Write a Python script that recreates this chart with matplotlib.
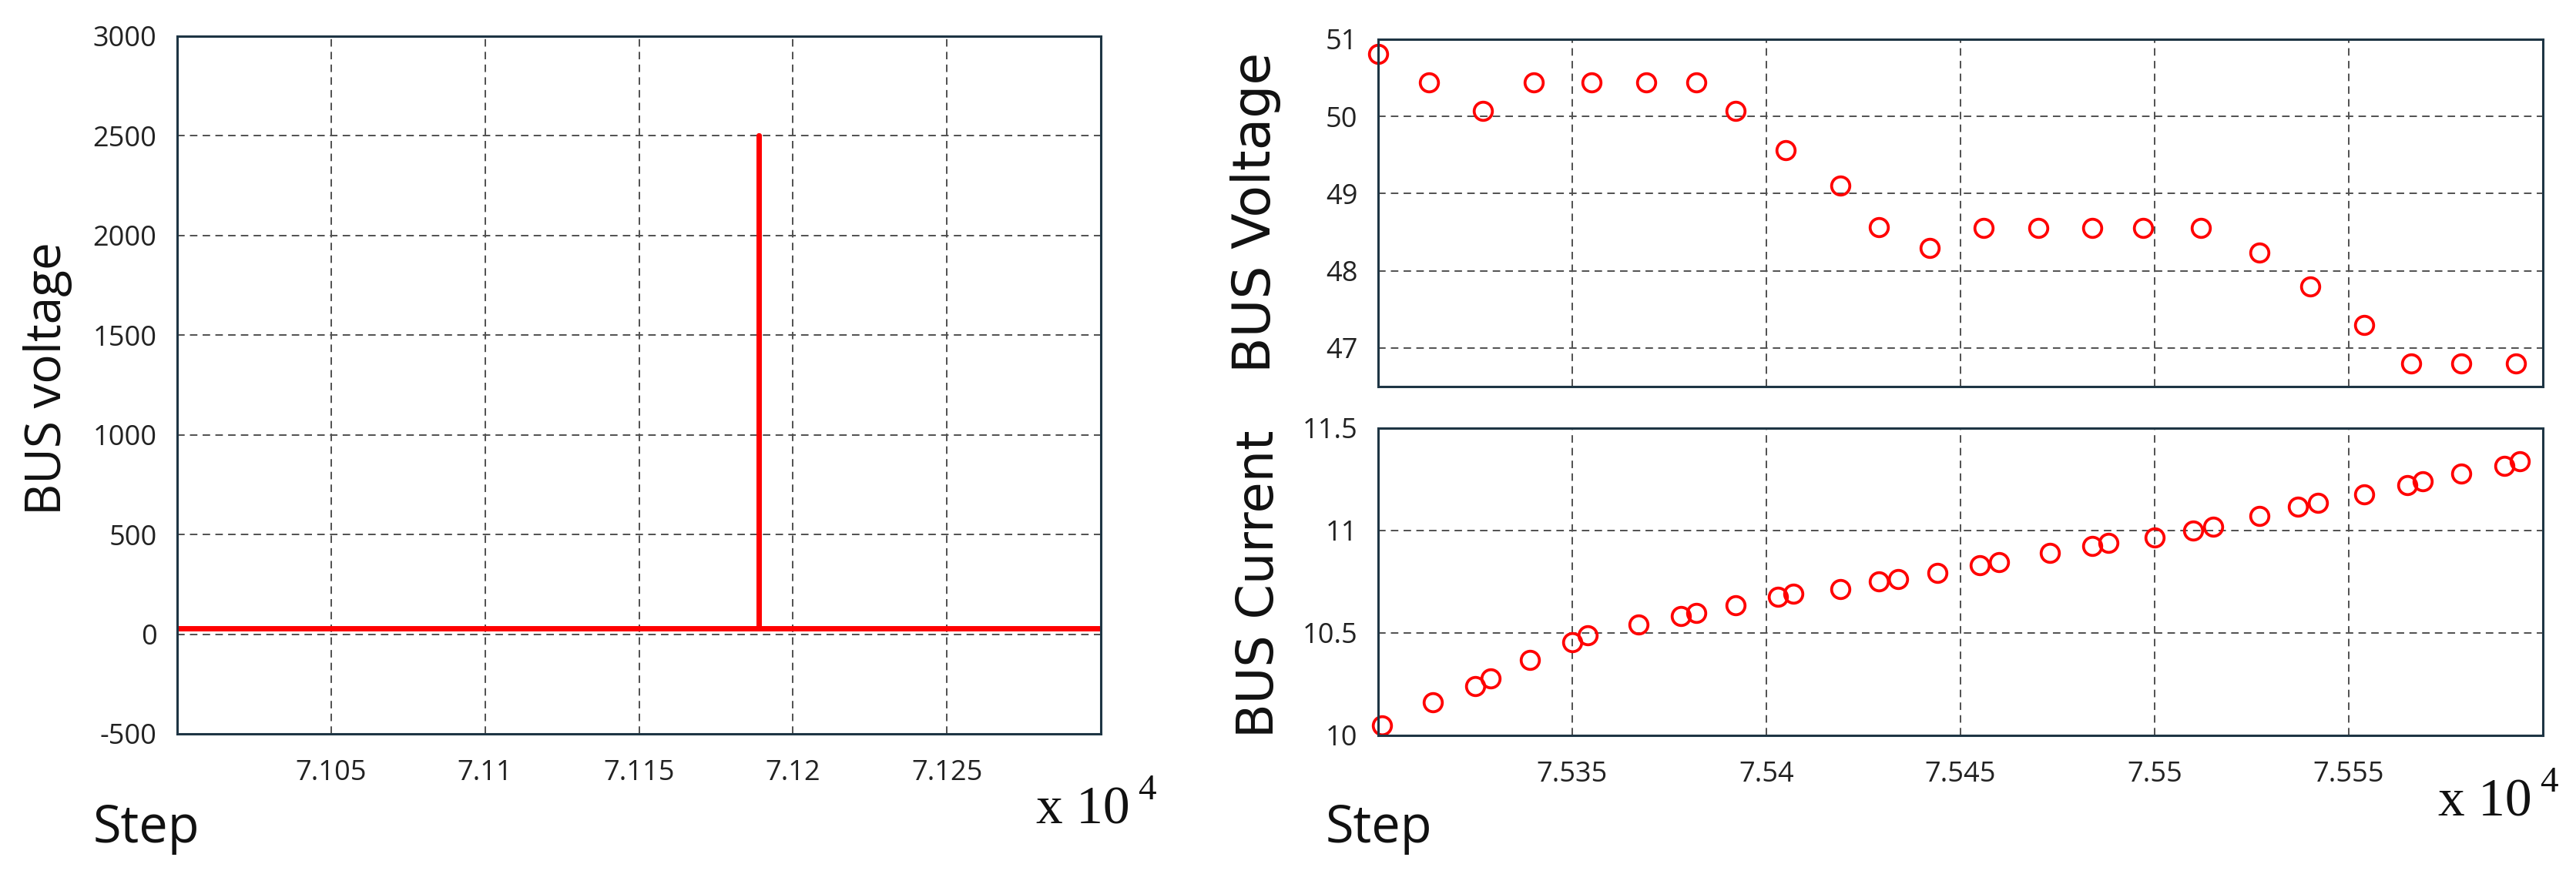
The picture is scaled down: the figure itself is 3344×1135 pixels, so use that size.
import matplotlib.pyplot as plt
from matplotlib.ticker import FuncFormatter

plt.rcParams['axes.unicode_minus'] = False

# left panel: bus voltage around the spike
step_left = [71000, 71189, 71189, 71189, 71300]
volt_left = [30, 30, 2500, 30, 30]

# right top: bus voltage samples
step_volt = [75300, 75313, 75327, 75340, 75355, 75369, 75382, 75392, 75405, 75419,
             75429, 75442, 75456, 75470, 75484, 75497, 75512, 75527, 75540, 75554,
             75566, 75579, 75593]
bus_volt = [50.81, 50.44, 50.07, 50.44, 50.44, 50.44, 50.44, 50.07, 49.56, 49.10,
            48.57, 48.30, 48.56, 48.56, 48.56, 48.56, 48.56, 48.24, 47.80, 47.30,
            46.80, 46.80, 46.80]

# right bottom: bus current samples
step_cur = [75301, 75314, 75325, 75329, 75339, 75350, 75354, 75367, 75378, 75382,
            75392, 75403, 75407, 75419, 75429, 75434, 75444, 75455, 75460, 75473,
            75484, 75488, 75500, 75510, 75515, 75527, 75537, 75542, 75554, 75565,
            75569, 75579, 75590, 75594]
bus_cur = [10.05, 10.16, 10.24, 10.28, 10.37, 10.455, 10.49, 10.54, 10.584, 10.598,
           10.634, 10.677, 10.691, 10.713, 10.75, 10.764, 10.792, 10.829, 10.845, 10.89,
           10.926, 10.939, 10.966, 11.0, 11.02, 11.073, 11.117, 11.135, 11.177, 11.22,
           11.24, 11.28, 11.316, 11.34]

left_xticks = [71050, 71100, 71150, 71200, 71250]
right_xticks = [75350, 75400, 75450, 75500, 75550]

W, H = 3344, 1135
fig = plt.figure(figsize=(W / 100, H / 100), dpi=100)

spine_col = '#1e3544'
grid_col = '#505050'
tick_font = 'Open Sans'


def style(ax):
    for s in ax.spines.values():
        s.set_color(spine_col)
        s.set_linewidth(2.2)
    ax.grid(True, linestyle=(0, (5, 3.5)), color=grid_col, linewidth=1.4)
    ax.set_axisbelow(True)
    ax.tick_params(length=0, labelsize=26, colors='#222222')
    ax.tick_params(axis='y', pad=19)
    ax.tick_params(axis='x', pad=24)
    for lab in ax.get_xticklabels() + ax.get_yticklabels():
        lab.set_fontfamily(tick_font)


fmt = FuncFormatter(lambda v, p: '%g' % (v / 1e4))

# left
ax1 = fig.add_axes([230 / W, 1 - 953 / H, (1429 - 230) / W, (953 - 47) / H])
ax1.plot(step_left, volt_left, color='red', linewidth=5)
ax1.set_xlim(71000, 71300)
ax1.set_ylim(-500, 3000)
ax1.set_xticks(left_xticks)
ax1.set_yticks([-500, 0, 500, 1000, 1500, 2000, 2500, 3000])
ax1.xaxis.set_major_formatter(fmt)
style(ax1)

# right top
ax2 = fig.add_axes([1789 / W, 1 - 502 / H, (3301 - 1789) / W, (502 - 51) / H])
ax2.plot(step_volt, bus_volt, 'o', mfc='none', mec='red', ms=17, mew=2.7, clip_on=False)
ax2.set_xlim(75300, 75600)
ax2.set_ylim(46.5, 51)
ax2.set_xticks(right_xticks)
ax2.set_yticks([47, 48, 49, 50, 51])
ax2.set_xticklabels([])
style(ax2)

# right bottom
ax3 = fig.add_axes([1789 / W, 1 - 955 / H, (3301 - 1789) / W, (955 - 556) / H])
ax3.plot(step_cur, bus_cur, 'o', mfc='none', mec='red', ms=17, mew=2.7, clip_on=False)
ax3.set_xlim(75300, 75600)
ax3.set_ylim(10, 11.5)
ax3.set_xticks(right_xticks)
ax3.set_yticks([10, 10.5, 11, 11.5])
ax3.yaxis.set_major_formatter(FuncFormatter(lambda v, p: '%g' % v))
ax3.xaxis.set_major_formatter(fmt)
style(ax3)

# axis labels
fig.text(62 / W, 1 - 492 / H, 'BUS voltage', rotation=90, ha='center', va='center',
         fontsize=46, family='Open Sans', color='#111111')
fig.text(1630 / W, 1 - 276 / H, 'BUS Voltage', rotation=90, ha='center', va='center',
         fontsize=49, family='DejaVu Sans', color='#111111')
fig.text(1635 / W, 1 - 758 / H, 'BUS Current', rotation=90, ha='center', va='center',
         fontsize=47, family='DejaVu Sans', color='#111111')

for x0 in (121, 1721):
    fig.text(x0 / W, 1 - 1094 / H, 'Step', ha='left', va='baseline',
             fontsize=48, family='Open Sans', color='#111111')

for x0, base in ((1345, 1070), (3165, 1060)):
    fig.text(x0 / W, 1 - base / H, 'x 10', ha='left', va='baseline',
             fontsize=50, family='Liberation Serif', color='#111111')
    fig.text((x0 + 132) / W, 1 - (base - 32) / H, '4', ha='left', va='baseline',
             fontsize=34, family='Liberation Serif', color='#111111')

fig.savefig('out.png', dpi=100)
